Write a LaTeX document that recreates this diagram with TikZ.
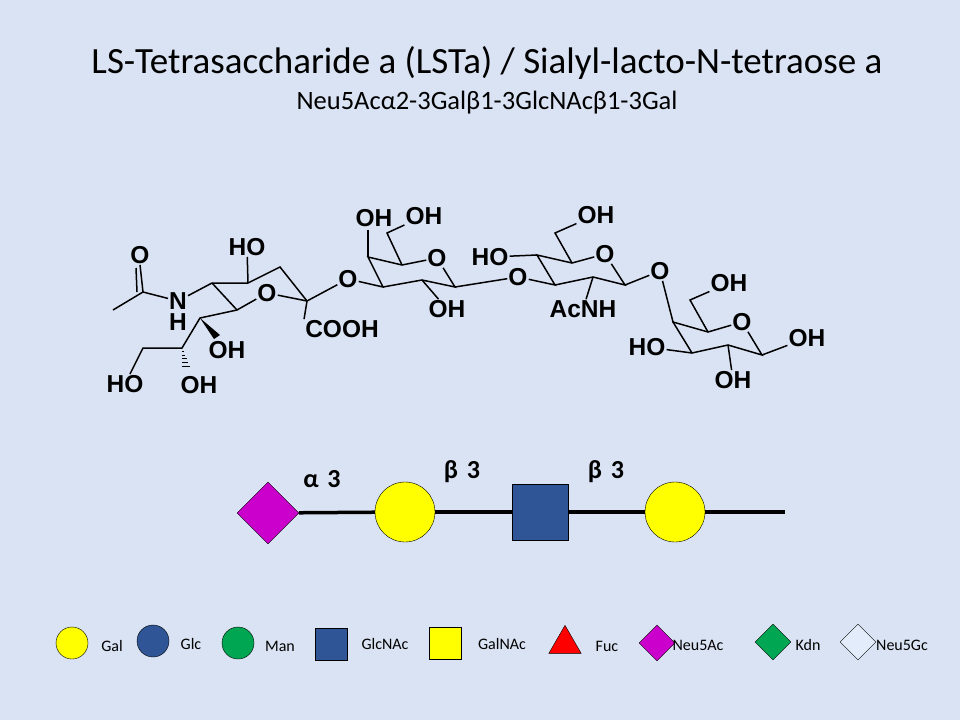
\documentclass[tikz,border=0pt]{standalone}
\usepackage{fontspec}
\setmainfont{Carlito}
\newfontfamily\arl{Liberation Sans}
\usetikzlibrary{shapes.geometric,calc}
\definecolor{bg}{RGB}{218,227,243}
\definecolor{galy}{RGB}{255,255,0}
\definecolor{nblue}{RGB}{47,85,151}
\definecolor{neu}{RGB}{204,0,204}
\definecolor{mgreen}{RGB}{0,166,81}
\definecolor{gcl}{RGB}{226,236,250}
\begin{document}
\begin{tikzpicture}[x=1pt,y=-1pt,
  atm/.style={font=\arl\bfseries\fontsize{24.5}{24.5}\selectfont,inner sep=1pt},
  b/.style={line width=1.5pt},
  gal/.style={circle,draw,fill=galy,minimum size=60pt,inner sep=0},
  lk/.style={line width=3.5pt},
  lg/.style={font=\fontsize{16}{16}\selectfont},
  lab/.style={font=\bfseries\fontsize{26}{26}\selectfont}]
\fill[bg] (0,0) rectangle (960,720);
\useasboundingbox (0,0) rectangle (960,720);
\node[font=\fontsize{37}{37}\selectfont] (t1) at (487,63) {LS-Tetrasaccharide a (LSTa) / Sialyl-lacto-N-tetraose a};
\node[font=\fontsize{26.5}{26.5}\selectfont] (t2) at (487,103) {Neu5Acα2-3Galβ1-3GlcNAcβ1-3Gal};
% ---- Neu5Ac
\node[atm] (oac) at (140,255) {O};
\node[atm] (n) at (178,301) {N};
\node[atm] (h) at (178,322) {H};
\node[atm] (ho4) at (247,247) {HO};
\node[atm] (or1) at (267,293) {O};
\node[atm] (cooh) at (342,329) {COOH};
\node[atm] (oh7) at (227,350) {OH};
\node[atm] (oh8) at (199,385) {OH};
\node[atm] (ho9) at (125,384) {HO};
\node[atm] (og1) at (348,279) {O};
\draw[b] (113,310) -- (143,292);
\draw[b] (143,292) -- (oac.south);
\draw[b] (137,292) -- (136,268);
\draw[b] (143,292) -- (n);
\draw[b] (n) -- (212,283) -- (248,283) -- (280,267) -- (307,301);
\draw[b] (or1) -- (307,301);
\draw[b] (212,283) -- (237,310) -- (or1);
\draw[b] (248,283) -- (ho4);
\fill (200,318) -- (214,339) -- (220,335) -- cycle;
\draw[b] (237,310) -- (200,318) -- (182,348) -- (143,348) -- (ho9);
\foreach \t in {0.15,0.3,...,0.9} \draw[line width=1pt] ($(182,348)!\t!(187,372)+(-\t*5,0)$) -- ($(182,348)!\t!(187,372)+(\t*5,0)$);
\draw[b] (307,301) -- (cooh.north west);
\draw[b] (307,301) -- (og1);
% ---- Gal 1
\node[atm] (oh4a) at (374,218) {OH};
\node[atm] (oh6a) at (424,216) {OH};
\node[atm] (ora) at (437,258) {O};
\node[atm] (oh2a) at (447,309) {OH};
\node[atm] (og2) at (518,277) {O};
\draw[b] (og1) -- (383,287) -- (368,257) -- (402,265) -- (ora);
\draw[b] (383,287) -- (422,280) -- (455,287) -- (ora);
\draw[b] (368,257) -- (368,230);
\draw[b] (402,265) -- (387,233) -- (oh6a);
\draw[b] (422,280) -- (oh2a);
\draw[b] (455,287) -- (og2);
% ---- GlcNAc
\node[atm] (ho4b) at (490,257) {HO};
\node[atm] (oh6b) at (596,215) {OH};
\node[atm] (orb) at (605,254) {O};
\node[atm] (acnh) at (583,309) {AcNH};
\node[atm] (og3) at (660,271) {O};
\draw[b] (og2) -- (555,285) -- (537,255) -- (572,263) -- (orb);
\draw[b] (555,285) -- (593,277) -- (625,285) -- (orb);
\draw[b] (ho4b) -- (537,255);
\draw[b] (572,263) -- (555,233) -- (oh6b);
\draw[b] (593,277) -- (acnh);
\draw[b] (625,285) -- (og3);
% ---- Gal reducing
\node[atm] (oh6c) at (729,283) {OH};
\node[atm] (orc) at (742,322) {O};
\node[atm] (oh1c) at (807,338) {OH};
\node[atm] (oh2c) at (733,380) {OH};
\node[atm] (ho3c) at (647,347) {HO};
\draw[b] (og3) -- (673,322) -- (708,332) -- (orc);
\draw[b] (673,322) -- (692,353) -- (728,345) -- (762,355) -- (orc);
\draw[b] (708,332) -- (690,300) -- (oh6c);
\draw[b] (762,355) -- (oh1c);
\draw[b] (728,345) -- (oh2c);
\draw[b] (ho3c) -- (692,353);
% ---- symbol chain
\node[diamond,draw,fill=neu,minimum size=62pt,inner sep=0] (s1) at (268,513) {};
\node[gal] (s2) at (405,512) {};
\node[draw,fill=nblue,minimum size=56pt,inner sep=0] (s3) at (540,512) {};
\node[gal] (s4) at (675,512) {};
\coordinate (s5) at (785,512);
\draw[lk] (s1) -- (s2); \draw[lk] (s2) -- (s3); \draw[lk] (s3) -- (s4); \draw[lk] (s4) -- (s5);
\node[lab] (l1) at (322,479) {α\,\,3};
\node[lab] (l2) at (462,472) {β\,\,3};
\node[lab] (l3) at (606,472) {β\,\,3};
% ---- legend
\node[circle,draw,fill=galy,minimum size=32pt,inner sep=0] (g1) at (72,643) {};
\node[lg] (g1t) at (112,646) {Gal};
\node[circle,draw,fill=nblue,minimum size=32pt,inner sep=0] (g2) at (153,641) {};
\node[lg] (g2t) at (191,644) {Glc};
\node[circle,draw,fill=mgreen,minimum size=32pt,inner sep=0] (g3) at (238,643) {};
\node[lg] (g3t) at (280,646) {Man};
\node[draw,fill=nblue,minimum size=32pt,inner sep=0] (g4) at (331,644) {};
\node[lg] (g4t) at (385,644) {GlcNAc};
\node[draw,fill=galy,minimum size=32pt,inner sep=0] (g5) at (445,643) {};
\node[lg] (g5t) at (502,644) {GalNAc};
\node[isosceles triangle,shape border rotate=90,isosceles triangle apex angle=60,draw,fill=red,minimum height=28pt,inner sep=0] (g6) at (565,644) {};
\node[lg] (g6t) at (607,646) {Fuc};
\node[diamond,draw,fill=neu,minimum size=36pt,inner sep=0] (g7) at (657,643) {};
\node[lg] (g7t) at (698,645) {Neu5Ac};
\node[diamond,draw,fill=mgreen,minimum size=36pt,inner sep=0] (g8) at (773,642) {};
\node[lg] (g8t) at (808,645) {Kdn};
\node[diamond,draw,fill=gcl,minimum size=36pt,inner sep=0] (g9) at (858,642) {};
\node[lg] (g9t) at (902,645) {Neu5Gc};
\end{tikzpicture}
\end{document}
